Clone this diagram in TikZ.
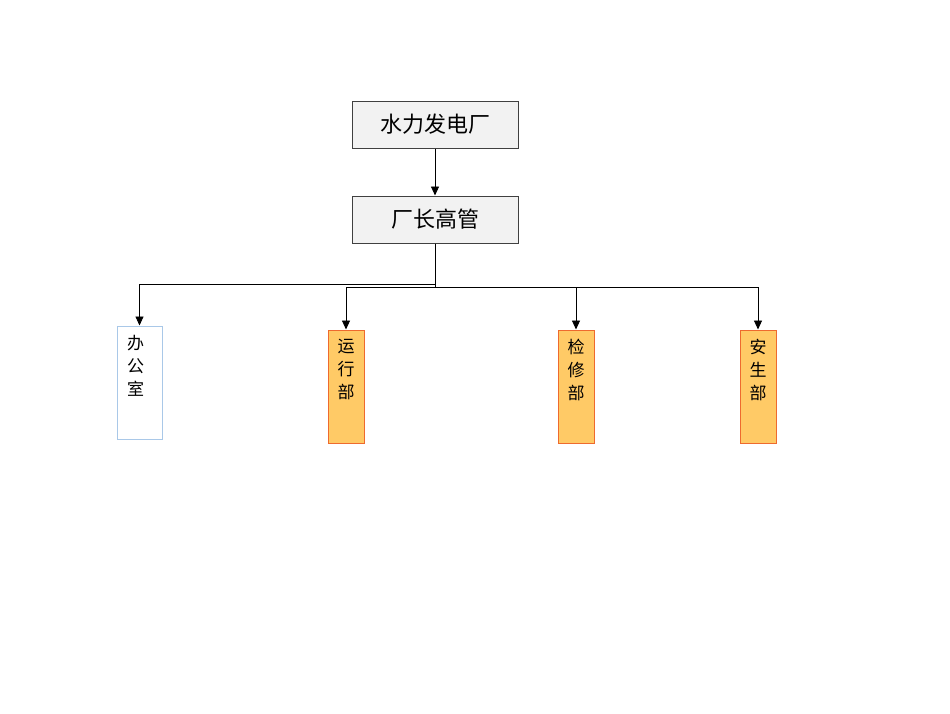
\documentclass[tikz,border=0pt]{standalone}
\usepackage{fontspec}
\setmainfont{Noto Sans CJK SC}
\usetikzlibrary{arrows.meta,positioning}
\definecolor{headfill}{HTML}{F2F2F2}
\definecolor{headline}{HTML}{404040}
\definecolor{deptfill}{HTML}{FFCA66}
\definecolor{deptline}{HTML}{EE6A2E}
\definecolor{officeline}{HTML}{A9C8E8}
\newcommand{\vlabel}[1]{\parbox[c][100pt][t]{20pt}{\centering\vspace*{3pt}#1}}
\tikzset{
    head/.style={
        rectangle,
        draw=headline,
        fill=headfill,
        line width=1pt,
        minimum width=166pt,
        minimum height=47pt,
        inner sep=0pt,
        font=\fontsize{22pt}{24pt}\selectfont
    },
    dept/.style={
        rectangle,
        draw=deptline,
        fill=deptfill,
        line width=1pt,
        minimum width=36pt,
        minimum height=113pt,
        inner sep=0pt,
        font=\fontsize{17pt}{23pt}\selectfont
    },
    office/.style={
        dept,
        draw=officeline,
        fill=white,
        minimum width=45pt
    },
    link/.style={
        ->,
        line width=0.9pt,
        >={Triangle[length=9pt,width=8pt]}
    }
}
\begin{document}
\begin{tikzpicture}[x=1pt,y=-1pt]
\useasboundingbox (0,0) rectangle (950,713);
\node[head] (plant) at (435,124.5) {水力发电厂};
\node[head] (boss) at (435,219.5) {厂长高管};
\node[office] (office) at (139.5,382.5) {\hspace*{-8pt}\vlabel{办\\公\\室}};
\node[dept] (run) at (346,386.5) {\vlabel{运\\行\\部}};
\node[dept] (repair) at (576,386.5) {\vlabel{检\\修\\部}};
\node[dept] (safety) at (758,386.5) {\vlabel{安\\生\\部}};
\draw[link] (plant) -- (boss);
\draw[link] (boss.south) -- ++(0,41) -| (office.north);
\draw[link] (boss.south) -- ++(0,44) -| (run.north);
\draw[link] (boss.south) -- ++(0,44) -| (repair.north);
\draw[link] (boss.south) -- ++(0,44) -| (safety.north);
\end{tikzpicture}
\end{document}
